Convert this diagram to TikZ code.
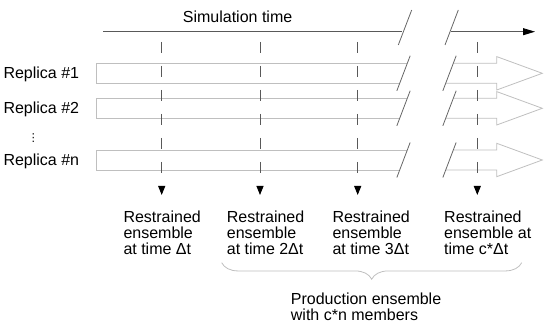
\documentclass[tikz,border=0pt]{standalone}
\usepackage{fontspec}
\setmainfont{Liberation Sans}
\newfontfamily\symfont{DejaVu Sans}
\usetikzlibrary{positioning,arrows.meta,decorations.pathreplacing}

\begin{document}
\begin{tikzpicture}[
  x = 1pt, y = -1pt,
  every node/.style = {font=\fontsize{16}{16}\selectfont, inner sep=0pt},
  lbl/.style      = {anchor=base west, align=left},
  bar/.style      = {draw=gray!50, line width=0.8pt},
  brk/.style      = {draw=black!60, line width=0.8pt},
  timeline/.style = {draw=black!65, line width=0.8pt},
  probe/.style    = {draw=black!65, line width=0.8pt, dash pattern=on 11pt off 13pt,
                     -{Triangle[length=9pt,width=7pt,color=black]}},
  brc/.style      = {draw=gray!50, line width=0.8pt, decorate,
                     decoration={brace, amplitude=16.5pt}}
]
\useasboundingbox (0,0) rectangle (550,328);

\node[lbl] (simt) at (182.7,22.7) {Simulation time};

\coordinate (t0) at (103,31.7);
\coordinate (t1) at (401.7,31.7);
\coordinate (t2) at (450.7,31.7);
\coordinate (t3) at (535,31.7);
\draw[timeline] (t0) -- (t1);
\draw[timeline, -{Triangle[length=12pt,width=7pt,color=black]}] (t2) -- (t3);
\draw[brk] (411.7,10) -- (398.3,45);
\draw[brk] (458.3,10) -- (445,45);

\foreach \yc/\nm in {73.3/1, 108.3/2, 160/n} {
  \node[lbl] (rep\nm) at (3.3,\yc+5.5) {Replica \#\nm};
  \draw[bar] (407.3,\yc-10) -- (96,\yc-10) -- (96,\yc+10) -- (399.7,\yc+10);
  \draw[bar] (453.3,\yc-10) -- (496.7,\yc-10) -- (496.7,\yc-16.7) -- (542.3,\yc)
    -- (496.7,\yc+16.7) -- (496.7,\yc+10) -- (445.7,\yc+10);
  \draw[brk] (410.15,\yc-17.5) -- (396.85,\yc+17.5);
  \draw[brk] (456.15,\yc-17.5) -- (442.85,\yc+17.5);
}
\node (dots) at (33.3,138) {\symfont\fontsize{11}{12}\selectfont ⋮};

\foreach \x [count=\i] in {161.7,260,357.7,477.3} {
  \coordinate (p\i) at (\x,42);
  \coordinate (q\i) at (\x,195);
  \draw[probe] (p\i) -- (q\i);
}

\node[lbl] (ens1) at (123.3,255) {Restrained\\ensemble\\at time Δt};
\node[lbl] (ens2) at (226.7,255) {Restrained\\ensemble\\at time 2Δt};
\node[lbl] (ens3) at (332.3,255) {Restrained\\ensemble\\at time 3Δt};
\node[lbl] (ensc) at (444,255)   {Restrained\\ensemble at\\time c*Δt};

\coordinate (b0) at (221.7,262.7);
\coordinate (b1) at (521.7,262.7);
\draw[brc] (b1) -- (b0);

\node[lbl] (prod) at (290.7,321) {Production ensemble\\with c*n members};

\end{tikzpicture}
\end{document}
